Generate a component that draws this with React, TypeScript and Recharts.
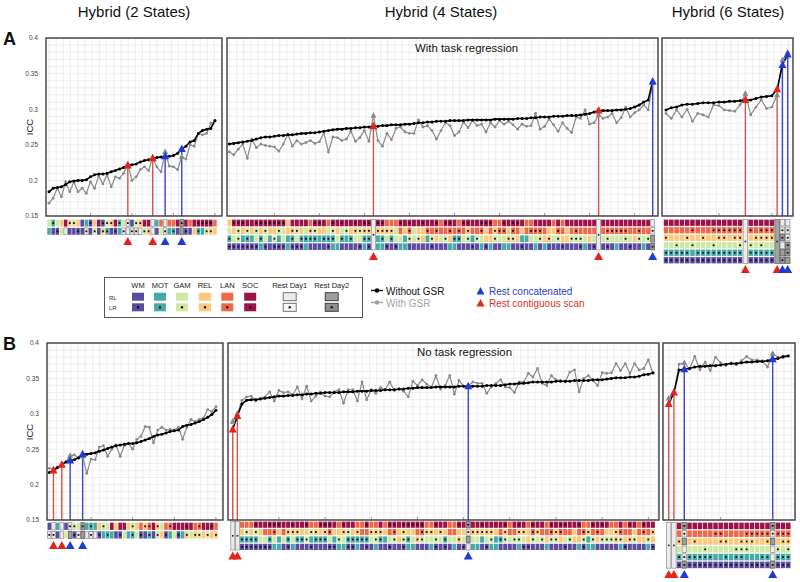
import React from 'react';
import { ComposedChart, ScatterChart, Scatter, Line, XAxis, YAxis, CartesianGrid, ReferenceLine } from 'recharts';

const FONT = '"Liberation Sans", Arial, Helvetica, sans-serif';

// ---------- axis ticks ----------
const yTickValues = [0.15, 0.2, 0.25, 0.3, 0.35, 0.4];
const yTickLabels = ['0.15', '0.2', '0.25', '0.3', '0.35', '0.4'];
const yGridValues = [0.15, 0.16, 0.17, 0.18, 0.19, 0.2, 0.21, 0.22, 0.23, 0.24, 0.25, 0.26, 0.27, 0.28, 0.29, 0.3, 0.31, 0.32, 0.33, 0.34, 0.35, 0.36, 0.37, 0.38, 0.39, 0.4];

// ---------- legend ----------
const stateNames = ['WM', 'MOT', 'GAM', 'REL', 'LAN', 'SOC'];
const stateCodes = ['W', 'M', 'G', 'R', 'L', 'S'];
const restNames = ['Rest Day1', 'Rest Day2'];
const seriesNames = ['Without GSR', 'With GSR'];
const restKindNames = ['Rest concatenated', 'Rest contiguous scan'];
const panelTitles = ['Hybrid (2 States)', 'Hybrid (4 States)', 'Hybrid (6 States)'];

// ---------- A: with task regression ----------
const a1WithoutGsr = [0.184, 0.189, 0.190, 0.191, 0.194, 0.198, 0.199, 0.200, 0.200, 0.201,
  0.205, 0.208, 0.209, 0.209, 0.210, 0.212, 0.214, 0.216, 0.218, 0.221,
  0.222, 0.223, 0.226, 0.228, 0.229, 0.231, 0.232, 0.233, 0.234, 0.234,
  0.235, 0.238, 0.244, 0.248, 0.254, 0.256, 0.266, 0.270, 0.272, 0.273, 0.284];
const a1WithGsr = [0.168, 0.175, 0.189, 0.177, 0.198, 0.184, 0.198, 0.184, 0.189, 0.182,
  0.198, 0.189, 0.206, 0.195, 0.208, 0.191, 0.205, 0.203, 0.210, 0.223,
  0.200, 0.205, 0.215, 0.219, 0.214, 0.232, 0.219, 0.212, 0.240, 0.220,
  0.219, 0.215, 0.233, 0.230, 0.250, 0.248, 0.266, 0.264, 0.266, 0.280, 0.283];
const a1Contiguous = [19, 25];
const a1Concatenated = [28, 32];
const a1States = [
  'GmGRSrgRWMwRSwgrSmGdWgrSSDMLDLLSeSLSssssL',
  'MWwGDWWwWdWgWrmWwMdDddDgrDWGdMmWEwWRmMgrR',
];

const a2WithoutGsr = [0.251, 0.252, 0.253, 0.254, 0.255, 0.256, 0.258, 0.260, 0.261, 0.261,
  0.262, 0.263, 0.263, 0.264, 0.264, 0.265, 0.266, 0.266, 0.267, 0.267,
  0.268, 0.269, 0.270, 0.271, 0.272, 0.272, 0.273, 0.273, 0.274, 0.274,
  0.275, 0.275, 0.276, 0.276, 0.277, 0.277, 0.278, 0.278, 0.278, 0.279,
  0.279, 0.280, 0.281, 0.281, 0.282, 0.282, 0.283, 0.283, 0.283, 0.284,
  0.284, 0.284, 0.284, 0.285, 0.285, 0.285, 0.285, 0.285, 0.285, 0.286,
  0.286, 0.286, 0.286, 0.286, 0.287, 0.287, 0.287, 0.288, 0.288, 0.289,
  0.289, 0.289, 0.290, 0.290, 0.290, 0.291, 0.291, 0.291, 0.292, 0.293,
  0.294, 0.296, 0.298, 0.298, 0.298, 0.298, 0.299, 0.299, 0.300, 0.301,
  0.303, 0.306, 0.310, 0.313, 0.339];
const a2WithGsr = [0.240, 0.236, 0.244, 0.251, 0.231, 0.258, 0.246, 0.251, 0.249, 0.248,
  0.247, 0.241, 0.251, 0.265, 0.248, 0.256, 0.251, 0.253, 0.256, 0.252,
  0.254, 0.267, 0.240, 0.261, 0.260, 0.256, 0.258, 0.269, 0.255, 0.260,
  0.270, 0.255, 0.291, 0.256, 0.248, 0.266, 0.257, 0.273, 0.275, 0.268,
  0.266, 0.266, 0.285, 0.275, 0.277, 0.270, 0.258, 0.270, 0.281, 0.277,
  0.263, 0.268, 0.282, 0.274, 0.284, 0.277, 0.279, 0.268, 0.281, 0.275,
  0.284, 0.279, 0.283, 0.278, 0.272, 0.279, 0.276, 0.277, 0.294, 0.272,
  0.276, 0.286, 0.278, 0.269, 0.281, 0.273, 0.267, 0.289, 0.287, 0.299,
  0.279, 0.281, 0.292, 0.287, 0.289, 0.294, 0.281, 0.288, 0.303, 0.289,
  0.295, 0.299, 0.306, 0.299, 0.337];
const a2Contiguous = [32, 82];
const a2Concatenated = [94];
const a2States = [
  'RsssSSsssssssRSSSSLssSLsSsSSsSss' + '|' + 'ssLLLsSsSSsSSsLssSLssSSsssLLsSssSLLSSSSLSLSSSSSSS' + '|' + 'SSSSSSSSSSS' + 'D',
  'GRgRgRgRgRRgGRrgRGrgRRGgRGgRrgrr' + '|' + 'rrrrGLRlGRRlLlLLlLlLrLLlRLrllRlLRLlllLRRlLRLlLLLL' + '|' + 'LlllllLLlLL' + 'd',
  'mGgMmMGmGMgMGMmGmmmmMmmmGmMmGGmm' + '|' + 'MmGmGGMgGgRMgRGgRmmGgMgGRRgGGrgRMMGGgRrGgRRgggGRG' + '|' + 'GgGGGgGRgGg' + 'E',
  'wwwwwwwMwWwwwMwwwMWWWWwMMWWWWwMw' + '|' + 'MMwWwMMWWWWWwWWWMMWWWwWMwMWWMMWWwWWMWMWWWwWWWwMWw' + '|' + 'WwWMWWwWWMW' + 'e',
];

const a3WithoutGsr = [0.299, 0.302, 0.303, 0.306, 0.307, 0.307, 0.308, 0.309, 0.309, 0.309,
  0.310, 0.310, 0.311, 0.311, 0.312, 0.313, 0.313, 0.315, 0.317, 0.318,
  0.319, 0.328, 0.362, 0.377];
const a3WithGsr = [0.294, 0.287, 0.299, 0.289, 0.300, 0.283, 0.294, 0.292, 0.289, 0.306,
  0.305, 0.299, 0.298, 0.297, 0.306, 0.322, 0.292, 0.303, 0.313, 0.301,
  0.303, 0.320, 0.369, 0.380];
const a3Contiguous = [15, 21];
const a3Concatenated = [22, 23];
const a3States = [
  'SSSSSSSSSSSSSSS' + '|' + 'SSSSS' + '#' + 'DD',
  'LLLLLlLLLllllll' + '|' + 'lLlll' + '#' + 'dd',
  'rRRRrRRrRRrrRrr' + '|' + 'Rrrrr' + '#' + 'ed',
  'GGgGGgGGGgGGGGg' + '|' + 'gGgGG' + '#' + 'De',
  'mmmmmMmmmmmmmmm' + '|' + 'mmmmm' + '#' + 'Ee',
  'wwwwwwwwwwwwwww' + '|' + 'wwwww' + '#' + 'eE',
];

// ---------- B: no task regression ----------
const b1WithoutGsr = [0.217, 0.220, 0.224, 0.228, 0.232, 0.234, 0.235, 0.238, 0.243, 0.243,
  0.244, 0.245, 0.247, 0.249, 0.251, 0.253, 0.255, 0.256, 0.257, 0.258,
  0.258, 0.259, 0.261, 0.263, 0.265, 0.268, 0.270, 0.271, 0.273, 0.275,
  0.276, 0.277, 0.282, 0.284, 0.285, 0.287, 0.289, 0.292, 0.295, 0.299, 0.305];
const b1WithGsr = [0.223, 0.222, 0.225, 0.229, 0.232, 0.241, 0.242, 0.237, 0.240, 0.216,
  0.236, 0.235, 0.253, 0.255, 0.240, 0.250, 0.256, 0.240, 0.255, 0.258,
  0.250, 0.264, 0.268, 0.282, 0.281, 0.259, 0.277, 0.281, 0.277, 0.278,
  0.277, 0.281, 0.264, 0.281, 0.292, 0.289, 0.292, 0.294, 0.306, 0.303, 0.310];
const b1Contiguous = [1, 3];
const b1Concatenated = [5, 8];
const b1States = [
  'WDMDWdgGeMmMRgGSRSSRgRLrlSrGLlSSSsSLlSSsL',
  'ddWDGEwdEDdDwMmMWwGMmGwWmWgRwMGwMrGrgRgRr',
];

const b2WithoutGsr = [0.278, 0.297, 0.314, 0.319, 0.320, 0.320, 0.321, 0.322, 0.323, 0.324,
  0.325, 0.325, 0.326, 0.326, 0.327, 0.327, 0.328, 0.328, 0.329, 0.329,
  0.330, 0.330, 0.330, 0.330, 0.331, 0.331, 0.331, 0.332, 0.332, 0.332,
  0.333, 0.333, 0.333, 0.334, 0.334, 0.334, 0.335, 0.335, 0.336, 0.336,
  0.337, 0.337, 0.337, 0.337, 0.338, 0.338, 0.338, 0.338, 0.338, 0.339,
  0.339, 0.339, 0.339, 0.339, 0.339, 0.340, 0.340, 0.340, 0.340, 0.341,
  0.342, 0.342, 0.343, 0.343, 0.344, 0.345, 0.345, 0.345, 0.345, 0.345,
  0.346, 0.346, 0.346, 0.346, 0.347, 0.347, 0.347, 0.347, 0.348, 0.348,
  0.348, 0.349, 0.350, 0.351, 0.351, 0.351, 0.352, 0.352, 0.353, 0.355,
  0.356, 0.358];
const b2WithGsr = [0.289, 0.300, 0.319, 0.324, 0.325, 0.318, 0.322, 0.324, 0.331, 0.318,
  0.333, 0.330, 0.331, 0.327, 0.338, 0.321, 0.339, 0.318, 0.325, 0.331,
  0.325, 0.324, 0.331, 0.334, 0.315, 0.334, 0.334, 0.318, 0.345, 0.320,
  0.334, 0.329, 0.337, 0.334, 0.345, 0.333, 0.335, 0.332, 0.324, 0.346,
  0.340, 0.348, 0.342, 0.337, 0.354, 0.335, 0.340, 0.354, 0.328, 0.347,
  0.339, 0.339, 0.345, 0.343, 0.343, 0.329, 0.338, 0.343, 0.348, 0.338,
  0.337, 0.330, 0.345, 0.345, 0.357, 0.352, 0.364, 0.343, 0.340, 0.354,
  0.348, 0.347, 0.345, 0.359, 0.362, 0.331, 0.350, 0.354, 0.347, 0.340,
  0.358, 0.357, 0.358, 0.371, 0.361, 0.371, 0.357, 0.371, 0.362, 0.364,
  0.376, 0.357];
const b2Contiguous = [0, 1];
const b2Concatenated = [51];
const b2States = [
  '||' + 'LLLsSSsssSSsSSsLLsssSLsSSLLsLLSLssSsssssLLsSSLLsS' + 'e' + 'SSsSSSSsLSsSLsSSLsSssSSsLLsSsSLLSLsSLsSS',
  '||' + 'RgRgRLLlRLrrrRRgrRrlRRrgRrLLrrrRLlRrRRLlrrRrRLLRR' + 'd' + 'rrrrrRLrLLrrRlrLLlrlLLRLlrLlLRRrlLLRLlLr',
  '||' + 'mmmmGGmGMGmGmmgMmmmGMgGmmmmmGgmMGgRgmGrgGGgGmGGrG' + 'E' + 'GGMGgMmgGggGRgGgRggRGgRRgMgRgggrgRrgRRgR',
  '||' + 'wwwwwwwMMWwMWWWwWWWwwMMwwMWwWMWWwWWwMMWWWMwWwWMWw' + 'D' + 'MMWwMMWWWWMwwWWWMWWWwWWMwMMWWWWWMwWWWWMw',
];

const b3WithoutGsr = [0.314, 0.330, 0.362, 0.363, 0.364, 0.366, 0.367, 0.367, 0.368, 0.368,
  0.369, 0.370, 0.371, 0.371, 0.372, 0.373, 0.373, 0.374, 0.374, 0.375,
  0.377, 0.378, 0.381, 0.382];
const b3WithGsr = [0.322, 0.330, 0.370, 0.372, 0.363, 0.381, 0.362, 0.373, 0.361, 0.380,
  0.372, 0.368, 0.372, 0.369, 0.375, 0.381, 0.376, 0.376, 0.375, 0.366,
  0.385, 0.380, 0.379, 0.381];
const b3Contiguous = [0, 1];
const b3Concatenated = [3, 20];
const b3States = [
  '||' + 'S' + 'e' + 'SSSSSSSSSSSSSSSS' + 'e' + 'SSS',
  '||' + 'L' + 'd' + 'LLLLLllLLLLlllll' + 'd' + 'lll',
  '||' + 'r' + 'E' + 'RrRRRRrrRRrrrRRr' + 'E' + 'Rrr',
  '||' + 'G' + 'D' + 'GGGgGGGGGgggGGGG' + 'D' + 'gGg',
  '||' + 'm' + 'd' + 'mmmmmMMmMmmMMMmm' + 'D' + 'mmm',
  '||' + 'w' + 'e' + 'wwwwwwwwwwwwwwww' + 'e' + 'www',
];

// ---------- styling ----------
const stateColors: Record<string, string> = {
  W: '#5c4b9f', M: '#48aaa8', G: '#cde9a4', R: '#fdc87b', L: '#ef684a', S: '#9c1249',
  D: '#ececec', E: '#9d9d9d',
};
const RED = '#e3241b';
const BLUE = '#1f3ad6';
const RED_LINE = '#d9534b';
const BLUE_LINE = '#3d44cf';

type Layout = {
  x: number; y: number; w: number; h: number; d0: number; d1: number;
  heatTop: number; rowH: number; labels: boolean;
};

const layoutA1: Layout = { x: 46, y: 38, w: 176, h: 178, d0: -0.72, d1: 41.7, heatTop: 219, rowH: 8.2, labels: true };
const layoutA2: Layout = { x: 227, y: 38, w: 431, h: 178, d0: -0.51, d1: 95.18, heatTop: 219, rowH: 7.9, labels: false };
const layoutA3: Layout = { x: 662, y: 38, w: 131, h: 178, d0: -0.76, d1: 24.0, heatTop: 218.5, rowH: 7.5, labels: false };
const layoutB1: Layout = { x: 47, y: 343, w: 176, h: 177, d0: -0.55, d1: 41.68, heatTop: 522, rowH: 8.6, labels: true };
const layoutB2: Layout = { x: 228, y: 343, w: 431, h: 177, d0: -1.02, d1: 92.3, heatTop: 521, rowH: 7.4, labels: false };
const layoutB3: Layout = { x: 663, y: 343, w: 132, h: 177, d0: -1.1, d1: 24.29, heatTop: 521.5, rowH: 7.8, labels: false };

const emptyTick = () => <g />;

const triPath = (cx: number, cy: number, w: number, h: number) =>
  `M${cx},${cy - h * 0.6} L${cx + w / 2},${cy + h * 0.4} L${cx - w / 2},${cy + h * 0.4} Z`;

type PanelProps = {
  layout: Layout; withoutGsr: number[]; withGsr: number[];
  contiguous: number[]; concatenated: number[]; states: string[];
};

function Panel({ layout, withoutGsr, withGsr, contiguous, concatenated, states }: PanelProps) {
  const { x, y, w, h, d0, d1, heatTop, rowH, labels } = layout;
  const n = withoutGsr.length;
  const data = withoutGsr.map((v, i) => {
    const kind = contiguous.includes(i) ? 'red' : concatenated.includes(i) ? 'blue' : null;
    return {
      i, without: v, with: withGsr[i],
      restWithout: kind ? v : null, restWith: kind ? withGsr[i] : null, kind,
    };
  });
  const stepPx = w / (d1 - d0);
  const g = 7.2 / stepPx;
  const gridX: number[] = [];
  for (let t = Math.ceil(d0 / g) * g; t <= d1; t += g) gridX.push(t);
  const majorX: number[] = [];
  for (let t = 10; t < n; t += 10) majorX.push(t);
  const labelW = labels ? 22 : 0;

  const hGen = (p: any) => {
    const s = p && p.yAxis && p.yAxis.scale;
    if (typeof s === 'function') return yGridValues.map((v) => s(v));
    const o = p.offset;
    return yGridValues.map((v) => o.top + (o.height * (0.4 - v)) / 0.25);
  };
  const vGen = (p: any) => {
    const s = p && p.xAxis && p.xAxis.scale;
    if (typeof s === 'function') return gridX.map((v) => s(v));
    const o = p.offset;
    return gridX.map((v) => o.left + (o.width * (v - d0)) / (d1 - d0));
  };

  const rows = states.length;
  const cells: any[] = [];
  states.forEach((row, r) => {
    for (let i = 0; i < row.length; i++) cells.push({ i, y: rows - r - 0.5, c: row[i], r });
  });
  const tris = data.filter((d) => d.kind).map((d) => ({ i: d.i, y: -0.78, kind: d.kind }));
  const pad = 1.5;
  const cw = Math.max(stepPx * 0.86, 2);
  const ch = rowH * 0.84;

  const renderCell = (p: any) => {
    const { cx, cy, payload } = p;
    const c: string = payload.c;
    if (c === '.' || cx == null) return <g />;
    if (c === '|' || c === '#') {
      if (payload.r !== 0) return <g />;
      const tallH = rows * rowH - (rowH - ch);
      return (
        <g>
          <rect x={cx - cw / 2} y={cy - ch / 2} width={cw} height={tallH}
            fill={c === '|' ? '#ececec' : '#a3a3a3'} stroke={c === '|' ? '#8c8c8c' : '#5a5a5a'} strokeWidth={0.7} />
          <rect x={cx - 0.8} y={cy - ch / 2 + tallH / 2 - 0.8} width={1.6} height={1.6} fill="#222" />
        </g>
      );
    }
    const up = c.toUpperCase();
    const lr = c !== up;
    const rest = up === 'D' || up === 'E';
    return (
      <g>
        <rect x={cx - cw / 2} y={cy - ch / 2} width={cw} height={ch} fill={stateColors[up]}
          stroke={rest ? (up === 'D' ? '#8c8c8c' : '#555') : 'none'} strokeWidth={0.7} />
        {lr ? <rect x={cx - 0.9} y={cy - 0.9} width={1.8} height={1.8} fill="#111" /> : null}
      </g>
    );
  };
  const renderBottomTri = (p: any) => {
    const { cx, cy, payload } = p;
    if (cx == null) return <g />;
    return <path d={triPath(cx, cy, 9, 8)} fill={payload.kind === 'red' ? RED : BLUE} />;
  };
  const renderTopTri = (p: any) => {
    const { cx, cy, payload, index } = p;
    if (cy == null || isNaN(cy) || !payload || !payload.kind) return <g key={`t${index}`} />;
    return <path key={`t${index}`} d={triPath(cx, cy, 8, 7.5)} fill={payload.kind === 'red' ? RED : BLUE} />;
  };
  const renderGrayTri = (p: any) => {
    const { cx, cy, payload, index } = p;
    if (cy == null || isNaN(cy) || !payload || !payload.kind) return <g key={`g${index}`} />;
    return <path key={`g${index}`} d={triPath(cx, cy, 6, 5.5)} fill="#8a8a8a" />;
  };

  return (
    <>
      <div style={{ position: 'absolute', left: x - labelW, top: y - 6 }}>
        <ComposedChart width={w + labelW} height={h + 12} data={data} margin={{ top: 6, right: 0, bottom: 6, left: 0 }}>
          <CartesianGrid stroke="#e2e2e2" strokeWidth={0.6}
            horizontalCoordinatesGenerator={hGen} verticalCoordinatesGenerator={vGen} />
          <XAxis type="number" dataKey="i" domain={[d0, d1]} ticks={majorX} interval={0} allowDataOverflow mirror
            axisLine={false} tickLine={{ stroke: '#777', strokeWidth: 0.8 }} tickSize={3} tick={emptyTick} />
          {labels ? (
            <YAxis type="number" domain={[0.15, 0.4]} ticks={yTickValues} interval={0} allowDataOverflow width={labelW}
              axisLine={false} tickLine={false} tickMargin={2}
              tick={{ fontSize: 6.5, fill: '#444' }}
              tickFormatter={(v: number) => { const k = yTickValues.indexOf(v); return k >= 0 ? yTickLabels[k] : ''; }} />
          ) : (
            <YAxis type="number" domain={[0.15, 0.4]} ticks={yTickValues} interval={0} allowDataOverflow mirror width={0}
              axisLine={false} tickLine={{ stroke: '#777', strokeWidth: 0.8 }} tickSize={3} tick={emptyTick} />
          )}
          {data.filter((d) => d.kind).map((d) => (
            <ReferenceLine key={`v${d.i}`} segment={[{ x: d.i, y: 0.15 }, { x: d.i, y: d.without }]}
              stroke={d.kind === 'red' ? RED_LINE : BLUE_LINE} strokeWidth={1.4} ifOverflow="visible" />
          ))}
          <Line dataKey="with" type="linear" stroke="#8a8a8a" strokeWidth={1.2}
            dot={{ r: 1.4, fill: '#8a8a8a', stroke: 'none' }} activeDot={false} isAnimationActive={false} />
          <Line dataKey="without" type="linear" stroke="#000" strokeWidth={1.6}
            dot={{ r: 1.5, fill: '#000', stroke: 'none' }} activeDot={false} isAnimationActive={false} />
          <Line dataKey="restWith" stroke="none" dot={renderGrayTri} activeDot={false} isAnimationActive={false} />
          <Line dataKey="restWithout" stroke="none" dot={renderTopTri} activeDot={false} isAnimationActive={false} />
        </ComposedChart>
      </div>
      <div style={{ position: 'absolute', left: x, top: heatTop }}>
        <ScatterChart width={w} height={rowH * (rows + pad)} margin={{ top: 0, right: 0, bottom: 0, left: 0 }}>
          <XAxis type="number" dataKey="i" domain={[d0, d1]} hide allowDataOverflow />
          <YAxis type="number" dataKey="y" domain={[-pad, rows]} hide allowDataOverflow />
          <Scatter data={cells} shape={renderCell} isAnimationActive={false} />
          <Scatter data={tris} shape={renderBottomTri} isAnimationActive={false} />
        </ScatterChart>
      </div>
    </>
  );
}

const legendCenters = [138, 160, 182, 205, 227.3, 250.2];
const restCenters = [289.7, 331.7];

function Overlay() {
  const frames = [layoutA1, layoutA2, layoutA3, layoutB1, layoutB2, layoutB3];
  return (
    <svg width={800} height={582} style={{ position: 'absolute', left: 0, top: 0, pointerEvents: 'none' }}
      fontFamily={FONT}>
      {frames.map((f, k) => (
        <rect key={k} x={f.x} y={f.y} width={f.w} height={f.h} fill="none" stroke="#3c3c3c" strokeWidth={1.4} />
      ))}
      <text x={134} y={17} fontSize={15} fill="#111" textAnchor="middle">{panelTitles[0]}</text>
      <text x={441} y={17} fontSize={15} fill="#111" textAnchor="middle">{panelTitles[1]}</text>
      <text x={728} y={17} fontSize={15} fill="#111" textAnchor="middle">{panelTitles[2]}</text>
      <text x={3} y={45} fontSize={18} fontWeight="bold" fill="#111">A</text>
      <text x={3} y={350} fontSize={18} fontWeight="bold" fill="#111">B</text>
      <text x={415} y={52} fontSize={11.4} fill="#111">With task regression</text>
      <text x={417} y={356} fontSize={11.4} fill="#111">No task regression</text>
      <text transform="translate(33,127) rotate(-90)" fontSize={9.5} fill="#222" textAnchor="middle">ICC</text>
      <text transform="translate(33,432) rotate(-90)" fontSize={9.5} fill="#222" textAnchor="middle">ICC</text>

      {/* state legend box */}
      <rect x={104.5} y={277.5} width={258} height={40} fill="#fff" stroke="#555" strokeWidth={1} />
      <text x={109} y={299.5} fontSize={6} fill="#333">RL</text>
      <text x={109} y={310} fontSize={6} fill="#333">LR</text>
      {stateNames.map((s, k) => (
        <g key={s}>
          <text x={legendCenters[k]} y={288.3} fontSize={7.5} fill="#222" textAnchor="middle">{s}</text>
          <rect x={legendCenters[k] - 6} y={292.7} width={12} height={8} fill={stateColors[stateCodes[k]]} />
          <rect x={legendCenters[k] - 6} y={303.3} width={12} height={8} fill={stateColors[stateCodes[k]]} />
          <rect x={legendCenters[k] - 1.1} y={306.2} width={2.2} height={2.2} fill="#111" />
        </g>
      ))}
      {restNames.map((s, k) => (
        <g key={s}>
          <text x={restCenters[k]} y={288.3} fontSize={7.5} fill="#222" textAnchor="middle">{s}</text>
          <rect x={restCenters[k] - 6.5} y={292.7} width={13} height={8} fill={k === 0 ? '#ececec' : '#9d9d9d'} stroke={k === 0 ? '#666' : '#333'} strokeWidth={0.9} />
          <rect x={restCenters[k] - 6.5} y={303.3} width={13} height={8} fill={k === 0 ? '#f7f7f7' : '#8f8f8f'} stroke={k === 0 ? '#666' : '#333'} strokeWidth={0.9} />
          <rect x={restCenters[k] - 1.1} y={306.2} width={2.2} height={2.2} fill="#111" />
        </g>
      ))}

      {/* series legend */}
      <line x1={371} y1={290.5} x2={383} y2={290.5} stroke="#000" strokeWidth={1.4} />
      <circle cx={377} cy={290.5} r={2.2} fill="#000" />
      <text x={386} y={294.5} fontSize={10} fill="#111">{seriesNames[0]}</text>
      <line x1={371} y1={302.5} x2={383} y2={302.5} stroke="#a0a0a0" strokeWidth={1.4} />
      <circle cx={377} cy={302.5} r={2.2} fill="#a0a0a0" />
      <text x={386} y={306.5} fontSize={10} fill="#a3a3a3">{seriesNames[1]}</text>
      <path d={triPath(480.5, 291.5, 8, 7.5)} fill={BLUE} />
      <text x={489} y={295} fontSize={10} fill="#2a3cc8">{restKindNames[0]}</text>
      <path d={triPath(480.5, 303.5, 8, 7.5)} fill={RED} />
      <text x={489} y={307} fontSize={10} fill="#d8321f">{restKindNames[1]}</text>
    </svg>
  );
}

export default function App() {
  return (
    <div style={{ position: 'absolute', left: 0, top: 0, width: 800, height: 582, background: '#fff', fontFamily: FONT, overflow: 'hidden' }}>
      <Panel layout={layoutA1} withoutGsr={a1WithoutGsr} withGsr={a1WithGsr} contiguous={a1Contiguous} concatenated={a1Concatenated} states={a1States} />
      <Panel layout={layoutA2} withoutGsr={a2WithoutGsr} withGsr={a2WithGsr} contiguous={a2Contiguous} concatenated={a2Concatenated} states={a2States} />
      <Panel layout={layoutA3} withoutGsr={a3WithoutGsr} withGsr={a3WithGsr} contiguous={a3Contiguous} concatenated={a3Concatenated} states={a3States} />
      <Panel layout={layoutB1} withoutGsr={b1WithoutGsr} withGsr={b1WithGsr} contiguous={b1Contiguous} concatenated={b1Concatenated} states={b1States} />
      <Panel layout={layoutB2} withoutGsr={b2WithoutGsr} withGsr={b2WithGsr} contiguous={b2Contiguous} concatenated={b2Concatenated} states={b2States} />
      <Panel layout={layoutB3} withoutGsr={b3WithoutGsr} withGsr={b3WithGsr} contiguous={b3Contiguous} concatenated={b3Concatenated} states={b3States} />
      <Overlay />
    </div>
  );
}
